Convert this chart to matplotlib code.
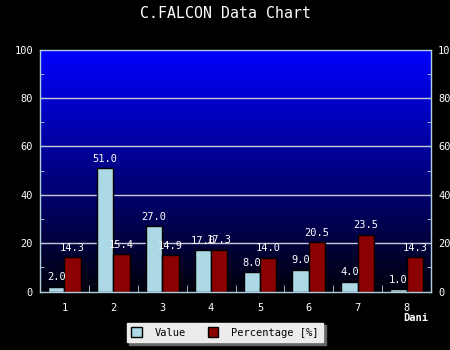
import matplotlib
matplotlib.use("Agg")
import matplotlib.pyplot as plt
import numpy as np
from matplotlib.patches import Patch

categories = ["1", "2", "3", "4", "5", "6", "7", "8"]
value = [2.0, 51.0, 27.0, 17.0, 8.0, 9.0, 4.0, 1.0]
percentage = [14.3, 15.4, 14.9, 17.3, 14.0, 20.5, 23.5, 14.3]
series_names = ["Value", "Percentage [%]"]
title = "C.FALCON Data Chart"
xlabel = "Dani"

mono = "DejaVu Sans Mono"
fs = 7.5
fig = plt.figure(figsize=(4.5, 3.5), dpi=100, facecolor="black")
ax = fig.add_axes([40/450, 1 - 291.5/350, 391/450, 242/350])
ax.set_facecolor("black")

x = np.arange(1, len(categories) + 1)
ax.set_xlim(0.5, len(categories) + 0.5)
ax.set_ylim(0, 100)

# gradient background
grad = np.linspace(0, 1, 256)
cols = np.zeros((256, 1, 3))
cols[:, 0, 2] = 0.05 + 0.95 * grad
ax.imshow(cols, extent=[0.5, len(categories) + 0.5, 0, 100], origin="lower",
          aspect="auto", zorder=0)

for yv in [20, 40, 60, 80]:
    ax.axhline(yv, color="#c8c8d8", lw=1, zorder=1)

w = 0.335
ax.bar(x - w/2, value, w, color="#add8e6", edgecolor="black", lw=1, zorder=2)
ax.bar(x + w/2, percentage, w, color="#8b0000", edgecolor="black", lw=1, zorder=2)

for xi, v in zip(x - w/2, value):
    ax.text(xi, v + 1.8, f"{v:.1f}", color="white", ha="center", va="bottom",
            fontsize=fs, family=mono, zorder=3)
for xi, v in zip(x + w/2, percentage):
    ax.text(xi, v + 1.8, f"{v:.1f}", color="white", ha="center", va="bottom",
            fontsize=fs, family=mono, zorder=3)

spine_c = "#b0d0e0"
for s in ax.spines.values():
    s.set_color(spine_c)
    s.set_linewidth(1)

ax.set_xticks(x)
ax.set_xticklabels(categories)
ax.set_xticks(np.arange(1.5, len(categories), 1), minor=True)
ax.set_yticks(np.arange(0, 101, 20))
ax.set_yticks(np.arange(10, 100, 20), minor=True)
ax.tick_params(axis="x", which="major", length=0, pad=8, colors="white", labelsize=fs)
ax.tick_params(axis="x", which="minor", direction="in", length=5, color=spine_c)
ax.tick_params(axis="y", which="both", direction="in", length=3, color=spine_c,
               left=True, right=True, labelleft=True, labelright=True,
               labelcolor="white", labelsize=fs, pad=5)
for t in ax.yaxis.get_major_ticks():
    t.label1.set_family(mono)
    t.label2.set_family(mono)
    t.label2.set_horizontalalignment("left")
for t in ax.xaxis.get_major_ticks():
    t.label1.set_family(mono)
ax.tick_params(axis="y", which="major", pad=5)

fig.text(0.5, 1 - 14/350, title, color="white", ha="center", va="center",
         fontsize=10.7, family=mono)
fig.text(416/450, 1 - 318/350, xlabel, color="white", ha="center", va="center",
         fontsize=fs, family=mono, fontweight="bold")

handles = [Patch(facecolor="#add8e6", edgecolor="black", label=series_names[0]),
           Patch(facecolor="#8b0000", edgecolor="black", label=series_names[1])]
leg = fig.legend(handles=handles, loc="center", bbox_to_anchor=(225/450, 1 - 332.5/350),
                 ncol=2, frameon=True, fancybox=False,
                 shadow={"color": "#666666", "alpha": 1},
                 prop={"family": mono, "size": fs}, handlelength=1.0, handleheight=1.0,
                 borderpad=0.45, columnspacing=2.1, handletextpad=1.25)
leg.get_frame().set_facecolor("#ececec")
leg.get_frame().set_edgecolor("#ececec")
leg.get_frame().set_alpha(1)

fig.savefig("out.png", dpi=100, facecolor="black")
